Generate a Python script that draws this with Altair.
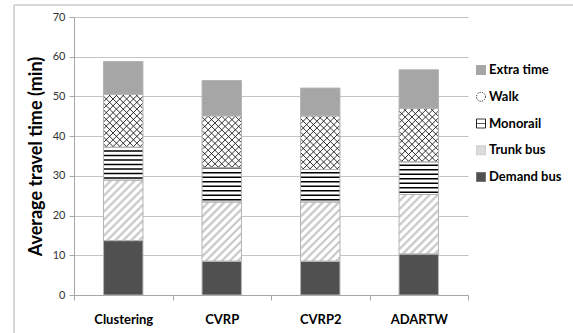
import json
import altair as alt
import pandas as pd

# Stacked travel-time components per routing method (minutes)
categories = ["Clustering", "CVRP", "CVRP2", "ADARTW"]
series = ["Demand bus", "Trunk bus", "Monorail", "Walk", "Extra time"]
demand_bus = [13.7, 8.5, 8.5, 10.3]
trunk_bus = [15.2, 14.9, 14.9, 15.0]
monorail = [8.3, 8.6, 8.2, 8.2]
walk = [13.3, 13.1, 13.5, 13.5]
extra_time = [8.3, 8.9, 7.0, 9.7]
y_ticks = [0, 10, 20, 30, 40, 50, 60, 70]

legend_order = ["Extra time", "Walk", "Monorail", "Trunk bus", "Demand bus"]
bar_fills = ["#a6a6a6", "#ffffff", "#ffffff", "#ffffff", "#505050"]
legend_fills = ["#a6a6a6", "#ffffff", "#ffffff", "#dcdcdc", "#505050"]
legend_strokes = ["#999999", "#222222", "#222222", "#c8c8c8", "#666666"]
legend_shapes = ["square", "circle", "M-1,-1H1V1H-1ZM-1,0H1", "square", "square"]
legend_dashes = [[1, 0], [1.2, 1.2], [1, 0], [1, 0], [1, 0]]

W, H = 394, 278
Y_MAX = 70
HALF = 0.2                      # half bar width, in category units
PX_X = W / len(categories)      # pixels per category unit
PX_Y = H / Y_MAX                # pixels per minute
BAR_PX = 2 * HALF * PX_X

rows = []
for i, cat in enumerate(categories):
    base = 0.0
    for name, vals in zip(series, [demand_bus, trunk_bus, monorail, walk, extra_time]):
        rows.append({"category": cat, "idx": i, "series": name,
                     "start": base, "end": base + vals[i]})
        base += vals[i]
df = pd.DataFrame(rows)

x_scale = alt.Scale(domain=[-0.5, len(categories) - 0.5], nice=False, zero=False)
y_scale = alt.Scale(domain=[0, Y_MAX], nice=False, zero=True)

x_axis = alt.Axis(
    title=None,
    values=[-0.5 + 0.5 * k for k in range(2 * len(categories) + 1)],
    labelExpr=f"datum.value % 1 === 0 ? {json.dumps(categories)}[datum.value] : ''",
    tickOpacity={"condition": {"test": "datum.value % 1 === 0", "value": 0}, "value": 1},
    labelOverlap=False, labelFlush=False, grid=False,
    labelFontSize=13, labelFontWeight="bold", labelColor="black", labelPadding=13,
    tickSize=5, tickColor="#a6a6a6", domainColor="#a6a6a6",
)
y_axis = alt.Axis(
    title="Average travel time (min)", values=y_ticks,
    titleFontSize=18, titleFontWeight="bold", titleColor="black", titlePadding=7,
    labelFontSize=11, labelColor="#333333", labelPadding=4, labelOverlap=False,
    labelFlush=False,
    tickSize=5, tickColor="#a6a6a6", domainColor="#a6a6a6",
    grid=True, gridColor="#c4c4c4",
)


def X(field):
    return alt.X(field, scale=x_scale, axis=x_axis)


def Y(field):
    return alt.Y(field, scale=y_scale, axis=y_axis)


base = alt.Chart(df).transform_calculate(
    xl=f"datum.idx - {HALF}", xr=f"datum.idx + {HALF}"
)

bars = base.mark_rect(strokeWidth=0).encode(
    x=X("xl:Q"), x2="xr:Q", y=Y("start:Q"), y2="end:Q",
    color=alt.Color("series:N", scale=alt.Scale(domain=legend_order, range=bar_fills), legend=None),
)

# Horizontal line hatching for the monorail segments
mono_step = 4.5 / PX_Y
mono = base.transform_filter(alt.datum.series == "Monorail").transform_calculate(
    ys=f"sequence(datum.start + {mono_step / 2}, datum.end, {mono_step})"
).transform_flatten(["ys"]).mark_rule(color="black", strokeWidth=1.5).encode(
    x=X("xl:Q"), x2="xr:Q", y=Y("ys:Q")
)


def diagonal_hatch(name, rising, spacing, color, width):
    """45-degree hatch lines clipped to each segment rectangle."""
    h = f"((datum.end - datum.start) * {PX_Y})"
    if rising:
        seq = f"sequence({-BAR_PX + spacing / 2}, {h}, {spacing})"
        u0 = "max(0, -datum.c)"
        u1 = f"min({BAR_PX}, {h} - datum.c)"
        v0 = f"({u0}) + datum.c"
        v1 = f"({u1}) + datum.c"
    else:
        seq = f"sequence({spacing / 2}, {BAR_PX} + {h}, {spacing})"
        u0 = f"max(0, datum.c - {h})"
        u1 = f"min({BAR_PX}, datum.c)"
        v0 = f"datum.c - ({u0})"
        v1 = f"datum.c - ({u1})"
    return base.transform_filter(alt.datum.series == name).transform_calculate(
        c=seq
    ).transform_flatten(["c"]).transform_calculate(
        hx1=f"datum.xl + ({u0}) / {PX_X}",
        hx2=f"datum.xl + ({u1}) / {PX_X}",
        hy1=f"datum.start + ({v0}) / {PX_Y}",
        hy2=f"datum.start + ({v1}) / {PX_Y}",
    ).mark_rule(color=color, strokeWidth=width, strokeCap="butt").encode(
        x=X("hx1:Q"), x2="hx2:Q", y=Y("hy1:Q"), y2="hy2:Q"
    )


trunk_hatch = diagonal_hatch("Trunk bus", True, 8, "#cccccc", 2.4)
walk_up = diagonal_hatch("Walk", True, 6.8, "#1a1a1a", 0.9)
walk_down = diagonal_hatch("Walk", False, 6.8, "#1a1a1a", 0.9)

outlines = base.mark_rect(fill="transparent", stroke="#b3b3b3", strokeWidth=1).encode(
    x=X("xl:Q"), x2="xr:Q", y=Y("start:Q"), y2="end:Q"
)

plot = alt.layer(bars, trunk_hatch, mono, walk_up, walk_down, outlines)

# Legend drawn as its own layer with independent row scale
key_df = pd.DataFrame({"series": legend_order, "row": list(range(len(legend_order)))})
row_y = alt.Y("row:Q", axis=None,
              scale=alt.Scale(domain=[0, len(legend_order) - 1], range=[53, 160], nice=False, zero=False))
key_swatch = alt.Chart(key_df).mark_point(filled=True, size=81, strokeWidth=1, opacity=1).encode(
    x=alt.value(407), y=row_y,
    fill=alt.Fill("series:N", scale=alt.Scale(domain=legend_order, range=legend_fills), legend=None),
    stroke=alt.Stroke("series:N", scale=alt.Scale(domain=legend_order, range=legend_strokes), legend=None),
    shape=alt.Shape("series:N", scale=alt.Scale(domain=legend_order, range=legend_shapes), legend=None),
    strokeDash=alt.StrokeDash("series:N", scale=alt.Scale(domain=legend_order, range=legend_dashes), legend=None),
)
key_text = alt.Chart(key_df).mark_text(
    align="left", baseline="middle", font="Lato", fontSize=13, fontWeight="bold", color="black"
).encode(x=alt.value(415), y=row_y, text="series:N")
key = alt.layer(key_swatch, key_text)

frame = alt.Chart(pd.DataFrame({"k": [0]})).mark_rect(
    fill="transparent", stroke="#b0b0b0", strokeWidth=1
).encode(x=alt.value(-60), x2=alt.value(520), y=alt.value(-12), y2=alt.value(340))

chart = alt.layer(frame, plot, key).resolve_scale(
    x="independent", y="independent", fill="independent", stroke="independent", shape="independent"
).properties(
    width=W, height=H,
    autosize=alt.AutoSizeParams(type="none"),
    padding={"left": 74, "top": 17, "right": 573 - 74 - W, "bottom": 333 - 17 - H},
).configure_view(stroke=None).configure_axis(
    labelFont="Lato", titleFont="Lato"
)

chart.save("out.html", embed_options={"renderer": "svg", "actions": False})
